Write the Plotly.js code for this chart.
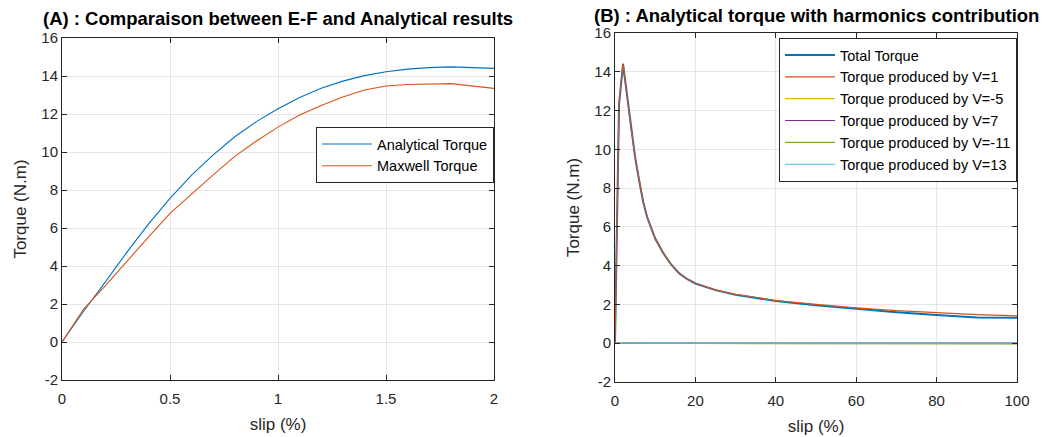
<!DOCTYPE html>
<html>
<head>
<meta charset="utf-8">
<script src="https://cdn.plot.ly/plotly-3.0.1.min.js"></script>
<style>html,body{margin:0;padding:0;background:#fff;}#chart{width:1042px;height:437px;}</style>
</head>
<body>
<div id="chart"></div>
<script>
// ---- Panel A data ----
const slipA = [0,0.1,0.2,0.3,0.4,0.5,0.6,0.7,0.8,0.9,1.0,1.1,1.2,1.3,1.4,1.5,1.6,1.7,1.8,1.9,2.0];
const analyticalTorque = [0,1.62,3.15,4.72,6.2,7.56,8.78,9.85,10.8,11.6,12.28,12.87,13.35,13.73,14.02,14.22,14.36,14.44,14.48,14.45,14.4];
const slipMaxwell = [0,0.1,0.2,0.3,0.4,0.5,0.6,0.7,0.8,0.9,1.0,1.1,1.2,1.3,1.4,1.5,1.6,1.8,2.0];
const maxwellTorque = [0,1.73,2.95,4.25,5.52,6.77,7.8,8.8,9.77,10.58,11.31,11.95,12.45,12.9,13.26,13.47,13.55,13.6,13.35];

// ---- Panel B data ----
const slipB = [0,1,2,3,4,5,6,7,8,9,10,12,14,16,18,20,25,30,35,40,50,60,70,80,90,100];
const totalTorque = [0,12.3,14.4,12.7,11.1,9.6,8.4,7.3,6.5,5.9,5.4,4.65,4.05,3.6,3.3,3.08,2.74,2.5,2.33,2.18,1.96,1.77,1.6,1.46,1.33,1.32];
const torqueV1 = [0,12.4,14.44,12.7,11.1,9.6,8.4,7.3,6.5,5.9,5.4,4.65,4.05,3.6,3.3,3.08,2.75,2.52,2.35,2.2,2.0,1.82,1.68,1.56,1.47,1.41];
const slipH = [0,2,10,20,40,60,80,100];
const torqueVm5 = [0,-0.01,-0.01,-0.01,-0.01,-0.01,-0.01,-0.01];
const torqueV7 = [0,0.01,0.005,0.004,0.003,0.003,0.003,0.003];
const torqueVm11 = [0,-0.005,-0.005,-0.01,-0.015,-0.02,-0.03,-0.03];
const torqueV13 = [0,0.004,0.003,0.002,0.002,0.002,0.002,0.002];

const yTicks = [-2,0,2,4,6,8,10,12,14,16];
const yTickText = ['-2','0','2','4','6','8','10','12','14','16'];
const xTicksA = [0,0.5,1,1.5,2];
const xTickTextA = ['0','0.5','1','1.5','2'];
const xTicksB = [0,20,40,60,80,100];

const C = {blue:'#0072BD', orange:'#D95319', yellow:'#EDB120', purple:'#7E2F8E', green:'#77AC30', cyan:'#4DBEEE'};
const FONT = 'Liberation Sans, Arial, Helvetica, sans-serif';
const TXT = '#262626';

const traces = [
  {x:slipA, y:analyticalTorque, name:'Analytical Torque', mode:'lines', line:{color:C.blue,width:1.1}, xaxis:'x', yaxis:'y', legend:'legend'},
  {x:slipMaxwell, y:maxwellTorque, name:'Maxwell Torque', mode:'lines', line:{color:C.orange,width:1.1}, xaxis:'x', yaxis:'y', legend:'legend'},
  {x:slipB, y:totalTorque, name:'Total Torque', mode:'lines', line:{color:C.blue,width:2}, xaxis:'x2', yaxis:'y2', legend:'legend2'},
  {x:slipB, y:torqueV1, name:'Torque produced by V=1', mode:'lines', line:{color:C.orange,width:1.2}, xaxis:'x2', yaxis:'y2', legend:'legend2'},
  {x:slipH, y:torqueVm5, name:'Torque produced by V=-5', mode:'lines', line:{color:C.yellow,width:1.1}, xaxis:'x2', yaxis:'y2', legend:'legend2'},
  {x:slipH, y:torqueV7, name:'Torque produced by V=7', mode:'lines', line:{color:C.purple,width:1.1}, xaxis:'x2', yaxis:'y2', legend:'legend2'},
  {x:slipH, y:torqueVm11, name:'Torque produced by V=-11', mode:'lines', line:{color:C.green,width:1.3}, xaxis:'x2', yaxis:'y2', legend:'legend2'},
  {x:slipH, y:torqueV13, name:'Torque produced by V=13', mode:'lines', line:{color:C.cyan,width:1.1}, xaxis:'x2', yaxis:'y2', legend:'legend2'}
];

function axisBase(extra){
  return Object.assign({
    showline:true, mirror:'ticks', linecolor:TXT, linewidth:1,
    ticks:'inside', ticklen:5, tickcolor:TXT, tickwidth:1,
    showgrid:true, gridcolor:'#e6e6e6', gridwidth:1, zeroline:false,
    tickfont:{family:FONT, size:15, color:TXT}
  }, extra);
}

const layout = {
  width:1042, height:437,
  margin:{l:0,r:0,t:0,b:0},
  paper_bgcolor:'#fff', plot_bgcolor:'#fff',
  font:{family:FONT, color:TXT},
  showlegend:true,
  xaxis: axisBase({domain:[62/1042, 494/1042], range:[0,2], tickvals:xTicksA, ticktext:xTickTextA, anchor:'y', ticklabelstandoff:5,
    title:{text:'slip (%)', font:{family:FONT,size:17,color:TXT}, standoff:12}}),
  yaxis: axisBase({domain:[1-380/437, 1-38/437], range:[-2,16], tickvals:yTicks, ticktext:yTickText, anchor:'x',
    title:{text:'Torque (N.m)', font:{family:FONT,size:17,color:TXT}, standoff:10}}),
  xaxis2: axisBase({domain:[615/1042, 1017/1042], range:[0,100], tickvals:xTicksB, anchor:'y2', ticklabelstandoff:5,
    title:{text:'slip (%)', font:{family:FONT,size:17,color:TXT}, standoff:12}}),
  yaxis2: axisBase({domain:[1-382/437, 1-33/437], range:[-2,16], tickvals:yTicks, ticktext:yTickText, anchor:'x2',
    title:{text:'Torque (N.m)', font:{family:FONT,size:17,color:TXT}, standoff:10}}),
  legend:{x:494/1042, xanchor:'right', y:1-127/437, yanchor:'top', bgcolor:'#fff', bordercolor:TXT, borderwidth:1,
    font:{family:FONT,size:14.5,color:'#000'}, itemwidth:50, tracegroupgap:0},
  legend2:{x:1017/1042, xanchor:'right', y:1-38/437, yanchor:'top', bgcolor:'#fff', bordercolor:TXT, borderwidth:1,
    font:{family:FONT,size:14.5,color:'#000'}, itemwidth:50, tracegroupgap:0},
  annotations:[
    {text:'<b>(A) : Comparaison between E-F and Analytical results</b>', xref:'paper', yref:'paper', x:278/1042, y:1-31/437,
     xanchor:'center', yanchor:'bottom', showarrow:false, font:{family:FONT,size:18.5,color:'#000'}},
    {text:'<b>(B) : Analytical torque with harmonics contribution</b>', xref:'paper', yref:'paper', x:816/1042, y:1-28/437,
     xanchor:'center', yanchor:'bottom', showarrow:false, font:{family:FONT,size:18.5,color:'#000'}}
  ]
};

Plotly.newPlot('chart', traces, layout, {displayModeBar:false, staticPlot:true});
</script>
</body>
</html>
